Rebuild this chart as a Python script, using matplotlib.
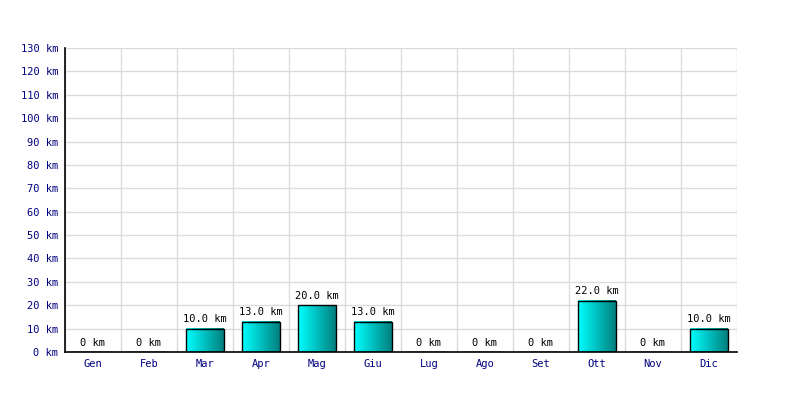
import numpy as np
from matplotlib import pyplot as plt
from matplotlib.colors import LinearSegmentedColormap

# Dati: km percorsi per mese
mesi = ['Gen', 'Feb', 'Mar', 'Apr', 'Mag', 'Giu', 'Lug', 'Ago', 'Set', 'Ott', 'Nov', 'Dic']
km = [0, 0, 10.0, 13.0, 20.0, 13.0, 0, 0, 0, 22.0, 0, 10.0]
y_ticks = list(range(0, 131, 10))

plt.rcParams['font.family'] = ['DejaVu Sans Mono']
blu = '#000080'

fig = plt.figure(figsize=(8, 4), dpi=100)
ax = fig.add_axes([65 / 800, 48 / 400, 672 / 800, 304 / 400])

x = np.arange(len(mesi))
larghezza = 38 / 56
grad = LinearSegmentedColormap.from_list('g', ['#00ffff', '#008080'])
sfumatura = np.linspace(0, 1, 64).reshape(1, -1)

barre = ax.bar(x, km, width=larghezza, facecolor='none', edgecolor='black', linewidth=1, zorder=3)
for b, v in zip(barre, km):
    if v > 0:
        x0 = b.get_x()
        ax.imshow(sfumatura, cmap=grad, aspect='auto', zorder=2,
                  extent=(x0, x0 + b.get_width(), 0, v), interpolation='bilinear')
    testo = f'{v:.1f} km' if v > 0 else '0 km'
    ax.annotate(testo, (b.get_x() + b.get_width() / 2, v), xytext=(0, 3),
                textcoords='offset points', ha='center', va='bottom', fontsize=7.5)

ax.set_xlim(-0.5, len(mesi) - 0.5)
ax.set_ylim(0, 130)
ax.set_yticks(y_ticks)
ax.set_yticklabels([f'{t} km' for t in y_ticks], color=blu, fontsize=7.5)
ax.set_xticks(x)
ax.set_xticklabels(mesi, color=blu, fontsize=7.5)
ax.set_xticks(np.arange(-0.5, len(mesi), 1), minor=True)
ax.tick_params(which='both', length=0, pad=5)
ax.grid(True, which='minor', axis='x', color='#dcdcdc', lw=1, zorder=0)
ax.grid(True, which='major', axis='y', color='#dcdcdc', lw=1, zorder=0)
ax.set_axisbelow(True)
ax.spines['top'].set_visible(False)
ax.spines['right'].set_visible(False)
ax.spines['left'].set_linewidth(1.2)
ax.spines['bottom'].set_linewidth(1.2)

fig.savefig('out.png', dpi=100)
